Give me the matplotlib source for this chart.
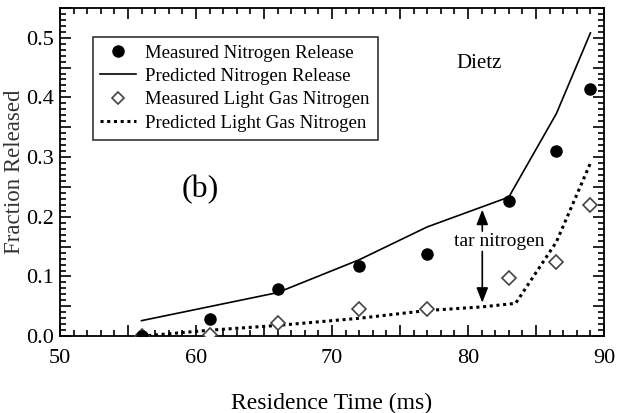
import matplotlib

matplotlib.use("agg")
import matplotlib.pyplot as plt
from matplotlib.lines import Line2D
from matplotlib.ticker import MultipleLocator, FuncFormatter

plt.rcParams["font.family"] = ["Liberation Serif", "DejaVu Serif"]

# measured total nitrogen release (filled circles)
meas_n_x = [56, 61, 66, 72, 77, 83, 86.5, 89]
meas_n_y = [0.0, 0.028, 0.079, 0.118, 0.137, 0.226, 0.311, 0.414]

# predicted total nitrogen release (solid line)
pred_n_x = [56, 66, 72, 77, 83, 86.5, 89]
pred_n_y = [0.026, 0.073, 0.128, 0.183, 0.233, 0.373, 0.508]

# measured light gas nitrogen (open diamonds)
meas_lg_x = [56, 61, 66, 72, 77, 83, 86.5, 89]
meas_lg_y = [0.0, 0.002, 0.022, 0.046, 0.046, 0.097, 0.125, 0.22]

# predicted light gas nitrogen (dotted line)
pred_lg_x = [56, 61, 66, 72, 77, 81, 83.5, 86.5, 89]
pred_lg_y = [0.0, 0.010, 0.018, 0.030, 0.043, 0.049, 0.055, 0.158, 0.29]

fig = plt.figure(figsize=(6.24, 4.13), dpi=100)
ax = fig.add_axes([0.096, 0.186, 0.872, 0.795])

ax.plot(pred_n_x, pred_n_y, color="black", lw=1.2)
ax.plot(pred_lg_x, pred_lg_y, color="black", lw=2.2, linestyle=(0, (1, 1.2)))
ax.plot(meas_n_x, meas_n_y, "o", color="black", ms=8, zorder=5)
ax.plot(meas_lg_x, meas_lg_y, "D", mfc="white", mec="#444444", mew=1.2, ms=7, zorder=4)

ax.set_xlim(50, 90)
ax.set_ylim(0, 0.55)

ax.xaxis.set_major_locator(MultipleLocator(5))
ax.xaxis.set_minor_locator(MultipleLocator(1))
ax.yaxis.set_major_locator(MultipleLocator(0.05))
ax.yaxis.set_minor_locator(MultipleLocator(0.01))
ax.xaxis.set_major_formatter(FuncFormatter(lambda v, p: "%d" % v if abs(v % 10) < 1e-6 else ""))
ax.yaxis.set_major_formatter(FuncFormatter(lambda v, p: "%.1f" % v if abs(round(v * 10) - v * 10) < 1e-6 else ""))
ax.tick_params(which="both", direction="in", top=True, right=True, labelsize=16, width=1.2)
ax.tick_params(which="major", length=8)
ax.tick_params(which="minor", length=4)
ax.tick_params(axis="x", which="major", pad=9)
ax.tick_params(axis="y", which="major", pad=4)
for s in ax.spines.values():
    s.set_linewidth(1.3)

ax.set_xlabel("Residence Time (ms)", fontsize=17)
ax.xaxis.set_label_coords(0.5, -0.172)
ax.set_ylabel("Fraction Released", fontsize=16.5, color="#333333")
ax.yaxis.set_label_coords(-0.065, 0.5)

handles = [
    Line2D([], [], marker="o", color="black", ls="none", ms=8),
    Line2D([], [], color="black", lw=1.2),
    Line2D([], [], marker="D", mfc="white", mec="#444444", mew=1.2, ls="none", ms=6),
    Line2D([], [], color="black", lw=2.2, linestyle=(0, (1, 1.2))),
]
labels = [
    "Measured Nitrogen Release",
    "Predicted Nitrogen Release",
    "Measured Light Gas Nitrogen",
    "Predicted Light Gas Nitrogen",
]
leg = ax.legend(handles, labels, loc="upper left", bbox_to_anchor=(0.06, 0.912),
                borderaxespad=0, fontsize=13.5, frameon=True, fancybox=False,
                edgecolor="black", borderpad=0.42, labelspacing=0.33,
                handlelength=1.9, handletextpad=0.5)
leg.get_frame().set_linewidth(1.2)

ax.text(80.8, 0.456, "Dietz", fontsize=15, ha="center", va="center")
ax.text(60.3, 0.245, "(b)", fontsize=23, ha="center", va="center")
ax.text(82.3, 0.158, "tar nitrogen", fontsize=14, ha="center", va="center")
arrow = dict(arrowstyle="-|>,head_length=0.9,head_width=0.35", color="black", lw=1.2,
             shrinkA=0, shrinkB=0)
ax.annotate("", xy=(81.05, 0.212), xytext=(81.05, 0.176), arrowprops=arrow)
ax.annotate("", xy=(81.05, 0.056), xytext=(81.05, 0.142), arrowprops=arrow)

fig.savefig("out.png", dpi=100)
